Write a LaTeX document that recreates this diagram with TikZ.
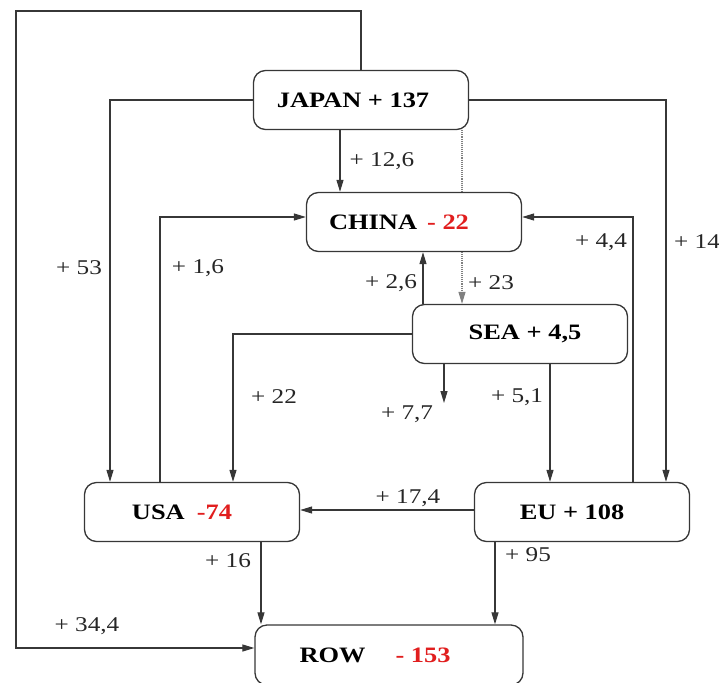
\documentclass[tikz,border=0pt]{standalone}
\usepackage{fontspec}
\setmainfont{Liberation Serif}[FakeStretch=1.2]
\usetikzlibrary{arrows.meta,backgrounds}
\definecolor{deficit}{RGB}{225,30,30}
\definecolor{pipe}{RGB}{55,55,55}

\begin{document}
\begin{tikzpicture}[
    x=1pt, y=-1pt,
    region/.style={rectangle, draw=pipe, fill=white, line width=1.3pt, rounded corners=12pt, minimum width=215pt, minimum height=59pt, font=\fontsize{22}{26}\selectfont\bfseries, inner sep=0pt},
    flow/.style={line width=1.2pt, draw=pipe, -{Triangle[length=12pt,width=7pt]}},
    ghostflow/.style={line width=1.1pt, draw=gray, densely dotted, -{Triangle[length=12pt,width=7pt]}},
    amount/.style={font=\fontsize{21}{25}\selectfont, text=black!85, inner sep=0pt}
]
\useasboundingbox (0,0) rectangle (719,682);

% ==================== REGIONS ====================
\node[region] (japan) at (361, 100) {JAPAN + 137\hspace*{16pt}};
\node[region] (china) at (414, 222) {CHINA\hspace*{10pt}\textcolor{deficit}{- 22}\hspace*{30pt}};
\node[region] (sea) at (520, 334) {\hspace*{10pt}SEA + 4,5};
\node[region] (usa) at (192, 512) {USA\hspace*{12pt}\textcolor{deficit}{-74}\hspace*{20pt}};
\node[region] (eu) at (582, 512) {EU + 108\hspace*{20pt}};
\node[region, minimum width=268pt, minimum height=60pt] (row) at (389, 655) {ROW\hspace*{30pt}\textcolor{deficit}{- 153}\hspace*{28pt}};

% free ends
\coordinate (loop_tl) at (16, 11);
\coordinate (sea_out) at (444, 403);

% ==================== FLOWS OUT OF JAPAN ====================
\begin{pgfonlayer}{background}
\draw[ghostflow] ([xshift=101pt]japan.south) -- ([xshift=101pt]japan.south |- sea.north);
\end{pgfonlayer}
\draw[flow] ([xshift=-21pt]japan.south) -- ([xshift=-21pt]japan.south |- china.north);
\draw[flow] (japan.west) -| ([xshift=-82pt]usa.north);
\draw[flow] (japan.east) -| ([xshift=84pt]eu.north);
\draw[flow] (japan.north) |- (loop_tl) |- ([yshift=7pt]row.west);

% ==================== FLOWS OUT OF SEA ====================
\draw[flow] ([xshift=-97pt]sea.north) -- ([xshift=-97pt]sea.north |- china.south);
\draw[flow] (sea.west) -| ([xshift=41pt]usa.north);
\draw[flow] ([xshift=-76pt]sea.south) -- (sea_out);
\draw[flow] ([xshift=30pt]sea.south) -- ([xshift=30pt]sea.south |- eu.north);

% ==================== FLOWS INTO CHINA ====================
\draw[flow] ([xshift=-32pt]usa.north) |- ([yshift=5pt]china.west);
\draw[flow] ([xshift=51pt]eu.north) |- ([yshift=5pt]china.east);

% ==================== LOWER FLOWS ====================
\draw[flow] ([yshift=2pt]eu.west) -- ([yshift=2pt]eu.west -| usa.east);
\draw[flow] ([xshift=69pt]usa.south) -- ([xshift=69pt]usa.south |- row.north);
\draw[flow] ([xshift=-87pt]eu.south) -- ([xshift=-87pt]eu.south |- row.north);

% ==================== AMOUNTS ====================
\node[amount] (a_jc) at (382, 161) {+ 12,6};
\node[amount] (a_ju) at (79, 268) {+ 53};
\node[amount] (a_uc) at (198, 268) {+ 1,6};
\node[amount] (a_ec) at (601, 242) {+ 4,4};
\node[amount] (a_je) at (697, 242) {+ 14};
\node[amount] (a_sc) at (391, 283) {+ 2,6};
\node[amount] (a_js) at (491, 283) {+ 23};
\node[amount] (a_su) at (274, 397) {+ 22};
\node[amount] (a_so) at (407, 414) {+ 7,7};
\node[amount] (a_se) at (517, 397) {+ 5,1};
\node[amount] (a_eu) at (408, 498) {+ 17,4};
\node[amount] (a_ur) at (228, 561) {+ 16};
\node[amount] (a_er) at (528, 555) {+ 95};
\node[amount] (a_jr) at (87, 626) {+ 34,4};

\end{tikzpicture}
\end{document}
